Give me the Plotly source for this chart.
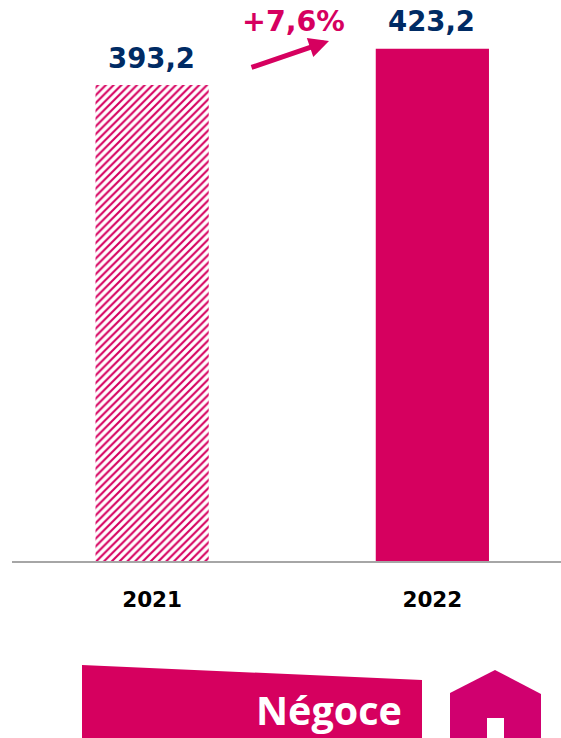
import plotly.graph_objects as go

years = ["2021", "2022"]
values = [393.2, 423.2]
value_labels = ["393,2", "423,2"]
growth_label = "+7,6%"
banner_label = "Négoce"

PINK = "#D6005F"
NAVY = "#002B64"
W, H = 561, 738
LEFT, BOTTOM = 12, 177


def px(x):
    return (x - LEFT) / (W - LEFT)


def py(y):
    return 1 - y / (H - BOTTOM)


def poly(points):
    parts = [f"{px(x)},{py(y)}" for x, y in points]
    return "M" + " L".join(parts) + " Z"


fig = go.Figure(
    go.Bar(
        x=years,
        y=values,
        width=0.404,
        marker=dict(
            color=[PINK, PINK],
            line=dict(width=0),
            pattern=dict(
                shape=["/", ""],
                fgcolor=PINK,
                bgcolor="white",
                size=5.5,
                solidity=0.38,
                fillmode="replace",
            ),
        ),
        hoverinfo="skip",
    )
)

for i, (value, label) in enumerate(zip(values, value_labels)):
    fig.add_annotation(
        x=i, y=value, text=f"<b>{label}</b>", showarrow=False,
        xanchor="center", yanchor="bottom", yshift=9 + i, xshift=-1,
        font=dict(family="DejaVu Sans", size=27.5, color=NAVY),
    )

fig.add_annotation(
    xref="paper", yref="paper", x=px(293.5), y=py(21), text=f"<b>{growth_label}</b>",
    xanchor="center", yanchor="middle",
    showarrow=False, font=dict(family="DejaVu Sans", size=28.5, color=PINK),
)
fig.add_annotation(
    xref="paper", yref="paper", x=px(329), y=py(41), axref="pixel", ayref="pixel",
    ax=-79, ay=27, text="", showarrow=True, arrowhead=2, arrowsize=0.8, arrowwidth=5,
    arrowcolor=PINK,
)
fig.add_annotation(
    xref="paper", yref="paper", x=px(404), y=py(710), xanchor="right", yanchor="middle",
    text=f"<b>{banner_label}</b>", showarrow=False,
    font=dict(family="Open Sans", size=39.5, color="white"),
)

fig.add_shape(type="path", xref="paper", yref="paper", layer="below", line_width=0,
              fillcolor=PINK, path=poly([(82, 665), (422, 680), (422, 738), (82, 738)]))
fig.add_shape(type="path", xref="paper", yref="paper", layer="below", line_width=0,
              fillcolor="#D0006F",
              path=poly([(450, 693), (495, 670), (541, 694), (541, 738), (450, 738)]))
fig.add_shape(type="path", xref="paper", yref="paper", layer="below", line_width=0,
              fillcolor="white", path=poly([(487, 718), (504, 718), (504, 738), (487, 738)]))

fig.update_layout(
    width=W, height=H, autosize=False,
    margin=dict(l=LEFT, r=0, t=0, b=BOTTOM, pad=0),
    plot_bgcolor="white", paper_bgcolor="white", showlegend=False,
    xaxis=dict(
        type="category", range=[-0.5, 1.459], showgrid=False, zeroline=False,
        showline=True, linecolor="#A6A6A6", linewidth=2, ticks="", ticklabelstandoff=18,
        tickfont=dict(family="DejaVu Sans", size=21.5, color="black", weight="bold"),
    ),
    yaxis=dict(range=[0, 463.4], visible=False),
)

fig.write_html("out.html", config={"displayModeBar": False},
               post_script="document.body.style.margin='0';")
